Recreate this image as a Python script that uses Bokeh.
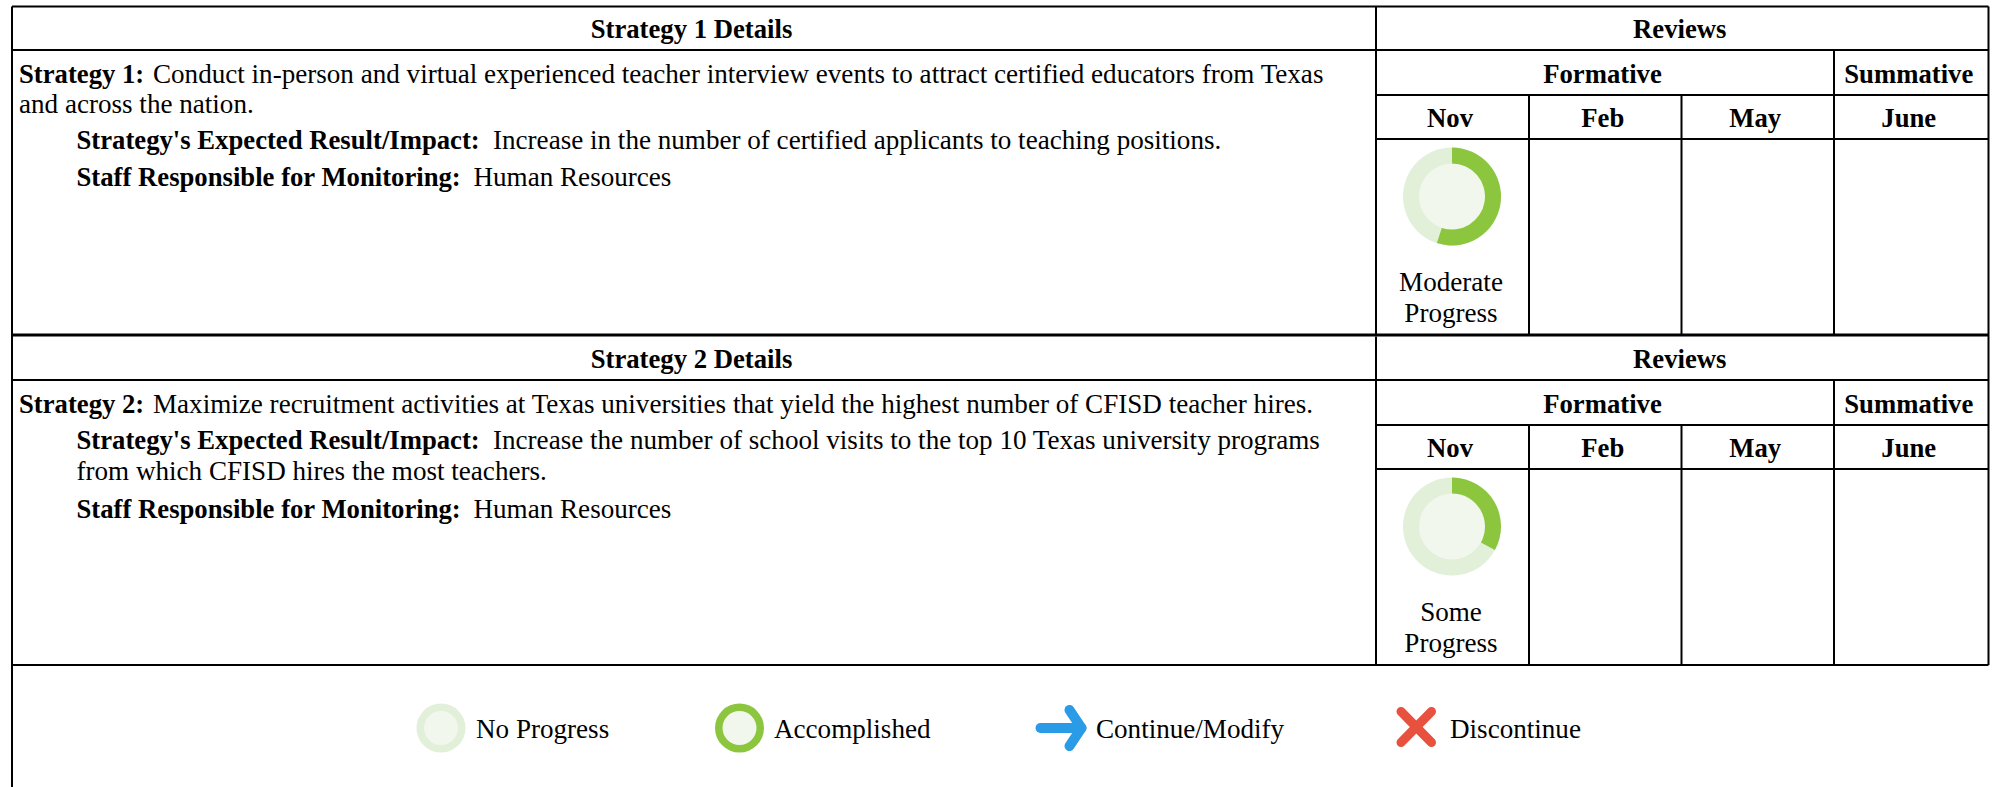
from bokeh.plotting import figure
from bokeh.models import Range1d
from bokeh.core.properties import value
from bokeh.embed import file_html
from bokeh.resources import INLINE
import math

W, H = 1997, 787
SERIF = "Liberation Serif"
FS_REG = "27.1px"
FS_BOLD = "26.7px"
TEXT_DY = -8

# ---- chart content ----
strategy_headers = ["Strategy 1 Details", "Strategy 2 Details"]
review_header = "Reviews"
group_labels = ["Formative", "Summative"]
review_months = ["Nov", "Feb", "May", "June"]
progress_values = [0.55, 0.33]
progress_labels = [["Moderate", "Progress"], ["Some", "Progress"]]
legend_labels = ["No Progress", "Accomplished", "Continue/Modify", "Discontinue"]
strategy_lines = [
    [("Strategy 1:", "Conduct in-person and virtual experienced teacher interview events to attract certified educators from Texas"),
     ("", "and across the nation."),
     ("Strategy's Expected Result/Impact:", "Increase in the number of certified applicants to teaching positions."),
     ("Staff Responsible for Monitoring:", "Human Resources")],
    [("Strategy 2:", "Maximize recruitment activities at Texas universities that yield the highest number of CFISD teacher hires."),
     ("Strategy's Expected Result/Impact:", "Increase the number of school visits to the top 10 Texas university programs"),
     ("", "from which CFISD hires the most teachers."),
     ("Staff Responsible for Monitoring:", "Human Resources")],
]

# ---- layout (page pixels) ----
LEFT, RIGHT, SPLIT = 11.5, 1988, 1375.5
COLS = [1528.5, 1681, 1833.5]
ROW_OFF = 330
CENTER_DX = -2.5
FIRST_X = 18.5
INDENT_X = 76
REG_X = {"Strategy 1:": 152.5, "Strategy 2:": 152.5, "Strategy's Expected Result/Impact:": 492.5,
         "Staff Responsible for Monitoring:": 473}
BASE_1 = [81, 111, 147, 184]
BASE_2 = [81.5, 117.5, 148, 186]

GREEN, PALE, INNER = "#8CC63F", "#E2EFD9", "#F1F7EC"
BLUE, RED = "#2A9BE6", "#E8513D"

p = figure(width=W, height=H, output_backend="svg", toolbar_location=None,
           x_range=Range1d(0, W), y_range=Range1d(H, 0),
           min_border=0, outline_line_color=None, margin=(0, 0, 0, 0))
p.xaxis.visible = False
p.yaxis.visible = False
p.grid.visible = False


def txt(x, y, s, bold=False, align="left"):
    p.text([x], [y + TEXT_DY], text=[s], text_font=value(SERIF),
           text_font_size=value(FS_BOLD if bold else FS_REG),
           text_font_style="bold" if bold else "normal", text_align=align,
           text_baseline="alphabetic", text_color="#000000")


def hline(x0, x1, y, w=2):
    p.line([x0, x1], [y, y], line_color="#000000", line_width=w)


def vline(x, y0, y1, w=2):
    p.line([x, x], [y0, y1], line_color="#000000", line_width=w)


def ring(cx, cy, frac):
    p.circle([cx], [cy], radius=49, fill_color=PALE, line_color=None)
    p.circle([cx], [cy], radius=33, fill_color=INNER, line_color=None)
    p.annular_wedge([cx], [cy], inner_radius=33, outer_radius=49,
                    start_angle=math.pi / 2, end_angle=math.pi / 2 - 2 * math.pi * frac,
                    direction="clock", fill_color=GREEN, line_color=None)


for i in range(2):
    o = i * ROW_OFF
    top = 6 + o
    if i == 0:
        hline(LEFT, RIGHT, top)
    hline(LEFT, RIGHT, 49.5 + o)
    hline(SPLIT, RIGHT, 94.5 + o)
    hline(SPLIT, RIGHT, 138.5 + o)
    hline(LEFT, RIGHT, 334.5 + o, 3 if i == 0 else 2)
    vline(SPLIT, top, 334.5 + o)
    vline(COLS[2], 49.5 + o, 334.5 + o)
    for c in COLS[:2]:
        vline(c, 94.5 + o, 334.5 + o)
    txt((LEFT + SPLIT) / 2 + CENTER_DX, 36 + o, strategy_headers[i], True, "center")
    txt((SPLIT + RIGHT) / 2 + CENTER_DX, 36 + o, review_header, True, "center")
    txt((SPLIT + COLS[2]) / 2 + CENTER_DX, 81 + o, group_labels[0], True, "center")
    txt((COLS[2] + RIGHT) / 2 + CENTER_DX, 81 + o, group_labels[1], True, "center")
    edges = [SPLIT] + COLS + [RIGHT]
    for k, m in enumerate(review_months):
        txt((edges[k] + edges[k + 1]) / 2 + CENTER_DX, 125 + o, m, True, "center")
    bases = BASE_1 if i == 0 else BASE_2
    for j, (b, r) in enumerate(strategy_lines[i]):
        y = bases[j] + o
        if b:
            bx = FIRST_X if b in ("Strategy 1:", "Strategy 2:") else INDENT_X
            txt(bx, y, b, True)
            txt(REG_X[b], y, r)
        else:
            txt(FIRST_X if i == 0 else INDENT_X, y, r)
    cx, cy = (SPLIT + COLS[0]) / 2 - 0.5, 196 + o
    ring(cx, cy, progress_values[i])
    txt(cx - 1, 289 + o, progress_labels[i][0], False, "center")
    txt(cx - 1, 320 + o, progress_labels[i][1], False, "center")

vline(LEFT, 6, H)
vline(RIGHT, 6, 664.5)

LEG_Y = 727.5
for cx, col in [(440.5, PALE), (739, GREEN)]:
    p.circle([cx], [LEG_Y], radius=24.5, fill_color=col, line_color=None)
    p.circle([cx], [LEG_Y], radius=17, fill_color=INNER, line_color=None)
p.multi_line([[1040, 1081], [1069, 1081, 1069]], [[LEG_Y, LEG_Y], [709.5, LEG_Y, 745.5]],
             line_color=BLUE, line_width=10, line_cap="round", line_join="round")
p.multi_line([[1400.5, 1431], [1431, 1400.5]], [[711, 742], [711, 742]],
             line_color=RED, line_width=9, line_cap="round")
for x, s in zip([475.5, 773.5, 1095.5, 1449.5], legend_labels):
    txt(x, 736.5, s)

open("out.html", "w").write(file_html(p, INLINE))
